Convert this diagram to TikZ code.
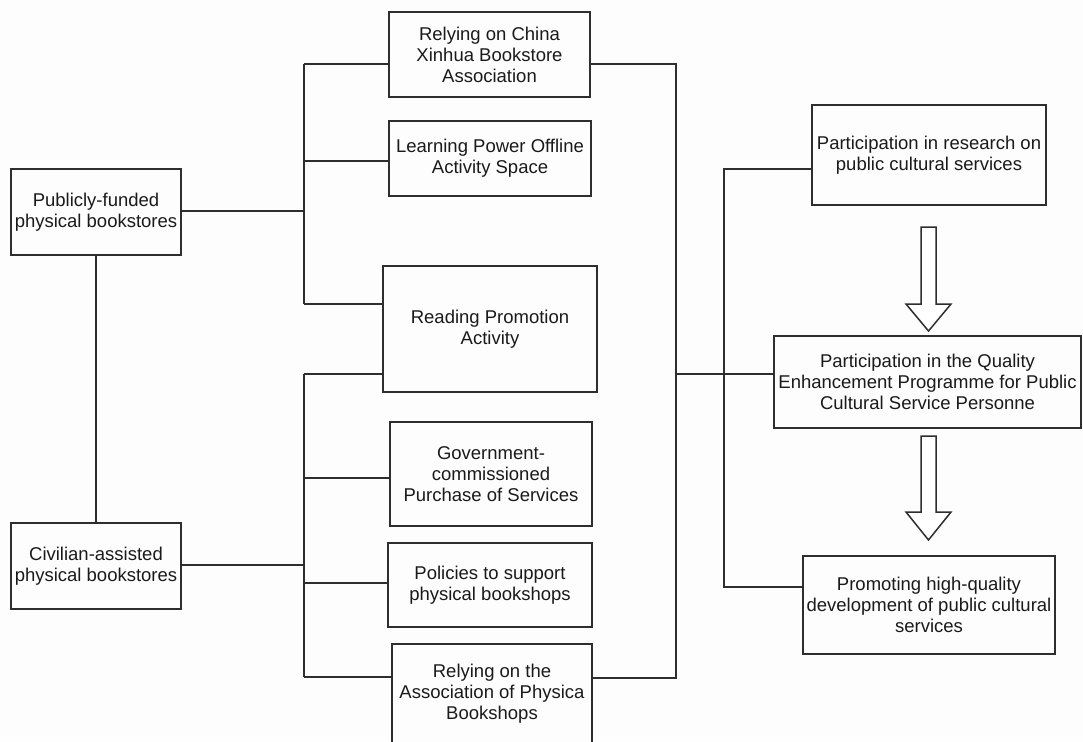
\documentclass[tikz,border=0pt]{standalone}
\usepackage{fontspec}
\setmainfont{Liberation Sans}
\definecolor{lc}{HTML}{2E2E2E}
\definecolor{tc}{HTML}{1A1A1A}
\definecolor{bg}{HTML}{FDFDFD}
\begin{document}
\begin{tikzpicture}[x=1pt,y=-1pt,
  box/.style={draw=lc, line width=1.5pt, align=center, inner sep=0pt, text=tc,
    font=\fontsize{18.5}{21}\selectfont, fill=bg},
  conn/.style={draw=lc, line width=1.5pt},
  blockarrow/.style={draw=lc, line width=1.5pt, fill=white, line join=miter}]
\fill[bg] (0,0) rectangle (1083,741);
\useasboundingbox (0,0) rectangle (1083,741);
\clip (0,0) rectangle (1083,741);

% left boxes
\node[box, minimum width=170pt, minimum height=86pt] (pub) at (96,212) {Publicly-funded\\physical bookstores};
\node[box, minimum width=170pt, minimum height=86pt] (civ) at (96,566) {Civilian-assisted\\physical bookstores};

% middle boxes
\node[box, minimum width=201pt, minimum height=85pt] (xinhua) at (489.5,54.5) {Relying on China\\Xinhua Bookstore\\Association};
\node[box, minimum width=202pt, minimum height=75pt] (learn) at (490,158.5) {Learning Power Offline\\Activity Space};
\node[box, minimum width=214pt, minimum height=126pt] (read) at (490,329) {Reading Promotion\\Activity};
\node[box, minimum width=202pt, minimum height=104pt] (gov) at (491,474) {Government-\\commissioned\\Purchase of Services};
\node[box, minimum width=204pt, minimum height=84pt] (pol) at (490,585) {Policies to support\\physical bookshops};
\node[box, minimum width=200pt, minimum height=100pt] (assoc) at (492,694) {Relying on the\\Association of Physica\\Bookshops};

% right boxes
\node[box, minimum width=234pt, minimum height=100pt] (res) at (929,155) {Participation in research on\\public cultural services};
\node[box, minimum width=307pt, minimum height=92pt] (qual) at (927.5,382) {Participation in the Quality\\Enhancement Programme for Public\\Cultural Service Personne};
\node[box, minimum width=252pt, minimum height=98pt] (prom) at (929,605) {Promoting high-quality\\development of public cultural\\services};

% left vertical link
\draw[conn] (pub.south) -- (civ.north);

% upper left tree
\coordinate (tA) at (304,64);
\coordinate (tB) at (304,161);
\coordinate (tP) at (304,211);
\coordinate (tC) at (304,304);
\draw[conn] (tA) -- (tC);
\draw[conn] (tA) -- (tA -| xinhua.west);
\draw[conn] (tB) -- (tB -| learn.west);
\draw[conn] (tC) -- (tC -| read.west);
\draw[conn] (pub.east |- tP) -- (tP);

% lower left tree
\coordinate (bA) at (304,374);
\coordinate (bB) at (304,478);
\coordinate (bP) at (304,565);
\coordinate (bC) at (304,583);
\coordinate (bD) at (304,677);
\draw[conn] (bA) -- (bD);
\draw[conn] (bA) -- (bA -| read.west);
\draw[conn] (bB) -- (bB -| gov.west);
\draw[conn] (bC) -- (bC -| pol.west);
\draw[conn] (bD) -- (bD -| assoc.west);
\draw[conn] (civ.east |- bP) -- (bP);

% right big bracket
\coordinate (rA) at (676,64);
\coordinate (rM) at (676,374);
\coordinate (rB) at (676,678);
\draw[conn] (xinhua.east |- rA) -- (rA) -- (rB) -- (rB -| assoc.east);
\draw[conn] (rM) -- (rM -| qual.west);

% right group bracket
\coordinate (sA) at (724,169);
\coordinate (sB) at (724,587);
\draw[conn] (sA -| res.west) -- (sA) -- (sB) -- (sB -| prom.west);

% block arrows
\draw[blockarrow] (921,227) -- (936,227) -- (936,304) -- (951,304) -- (928.5,331) -- (906,304) -- (921,304) -- cycle;
\draw[blockarrow] (921,436) -- (936,436) -- (936,512) -- (951,512) -- (928.5,540) -- (906,512) -- (921,512) -- cycle;
\end{tikzpicture}
\end{document}
